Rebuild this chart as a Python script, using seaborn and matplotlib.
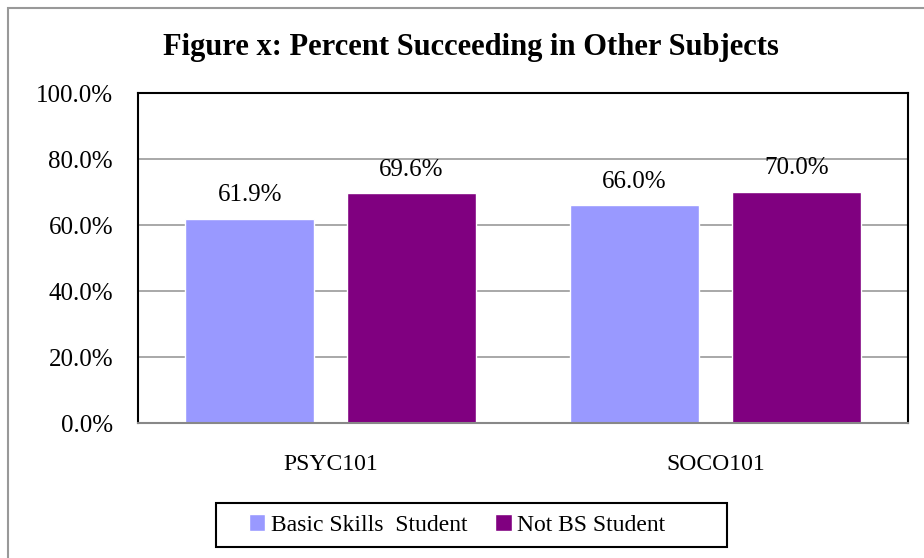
import matplotlib
matplotlib.use("Agg")
import matplotlib.pyplot as plt
import matplotlib.patches as mpatches
import seaborn as sns
import pandas as pd

categories = ["PSYC101", "SOCO101"]
basic_skills = [61.9, 66.0]
not_bs = [69.6, 70.0]
series_names = ["Basic Skills  Student", "Not BS Student"]
yticks = [0, 20, 40, 60, 80, 100]

df = pd.DataFrame({
    "course": categories * 2,
    "group": [series_names[0]] * 2 + [series_names[1]] * 2,
    "value": basic_skills + not_bs,
})

sns.set_theme(style="white")
plt.rcParams["font.family"] = ["Liberation Serif", "DejaVu Serif"]
plt.rcParams["text.color"] = "black"
plt.rcParams["xtick.color"] = "black"
plt.rcParams["ytick.color"] = "black"

fig = plt.figure(figsize=(9.24, 5.58), dpi=100)
ax = fig.add_axes([138 / 924, 1 - 423 / 558, 770 / 924, 330 / 558])

palette = ["#9999FF", "#800080"]
sns.barplot(data=df, x="course", y="value", hue="group", palette=palette,
            width=0.84, gap=0.2, ax=ax, legend=True, saturation=1)

ax.set_ylim(0, 100)
ax.set_yticks(yticks)
ax.set_yticklabels([f"{t:.1f}%" for t in yticks], fontsize=18, color="black")
ax.set_xlabel("")
ax.set_ylabel("")
ax.tick_params(axis="both", length=0, labelcolor="black")
ax.tick_params(axis="y", pad=18)
ax.tick_params(axis="x", pad=22, labelsize=17)
ax.set_xlim(-0.5, 1.5)
for g in [20, 40, 60, 80]:
    ax.axhline(g, color="#999999", lw=1.2, zorder=0)
for s in ["top", "left", "right"]:
    ax.spines[s].set_color("black")
    ax.spines[s].set_linewidth(1.5)
    ax.spines[s].set_visible(True)
ax.spines["bottom"].set_color("#888888")
ax.spines["bottom"].set_linewidth(1.5)

for cont in ax.containers:
    ax.bar_label(cont, labels=[f"{v:.1f}%" for v in cont.datavalues],
                 padding=9, fontsize=18, color="black")

leg = ax.legend(loc="center", bbox_to_anchor=(457 / 924, 1 - 525 / 558),
                bbox_transform=fig.transFigure, ncol=2, frameon=False,
                fontsize=17, handlelength=0.7, handleheight=0.7,
                handletextpad=0.22, columnspacing=1.2)
for t in leg.get_texts():
    t.set_color("black")

fig.patches.append(mpatches.Rectangle((216 / 924, 1 - 547 / 558), 511 / 924, 44 / 558,
                                      transform=fig.transFigure, fill=False,
                                      edgecolor="black", lw=1.5))

fig.text(471 / 924, 1 - 47 / 558, "Figure x: Percent Succeeding in Other Subjects",
         ha="center", va="center", fontsize=22, fontweight="bold", color="black")

fig.patches.append(mpatches.Rectangle((8 / 924, -0.1), 1.2, 1 - 8 / 558 + 0.1,
                                      transform=fig.transFigure, fill=False,
                                      edgecolor="#999999", lw=1.5))

fig.savefig("out.png", dpi=100)
